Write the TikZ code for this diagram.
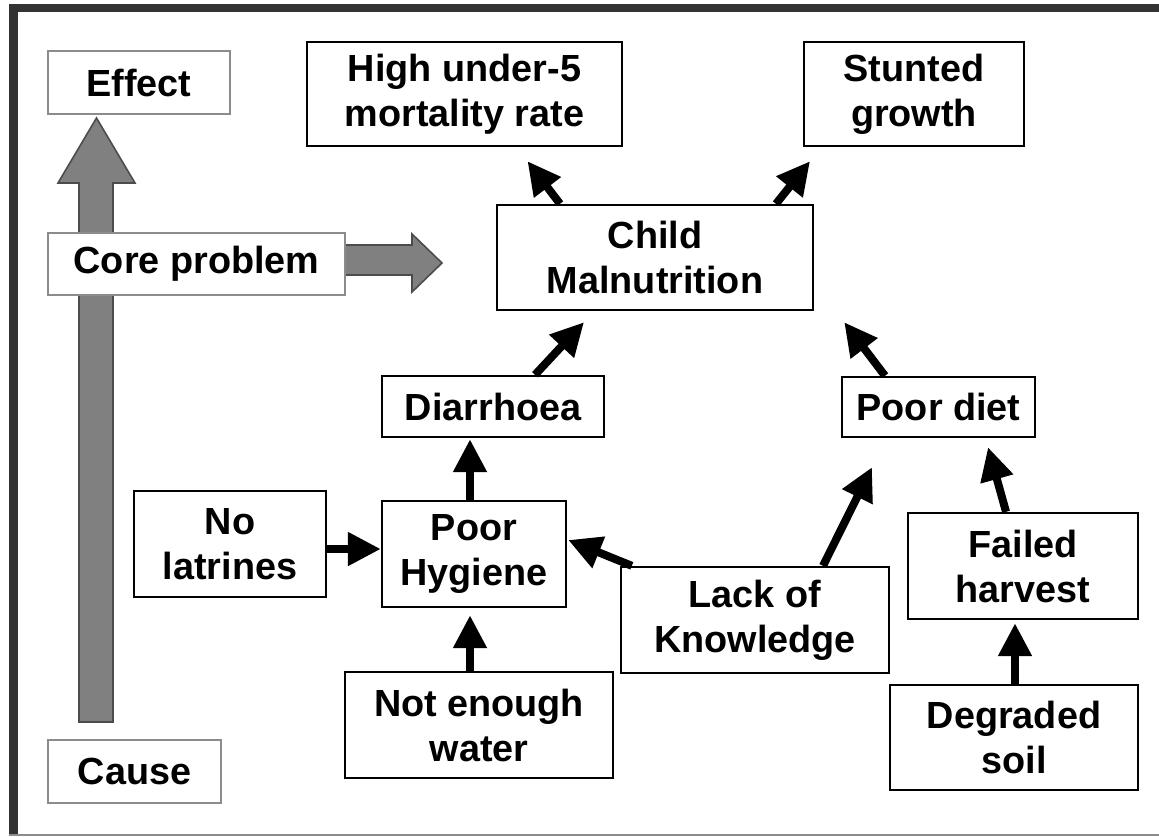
\documentclass[tikz,border=0pt]{standalone}
\usepackage{fontspec}
\setmainfont{Liberation Sans}
\usepackage{tikz}
\usetikzlibrary{arrows.meta, positioning}
\tikzset{>={Triangle[length=16.5pt,width=16pt]}}
\definecolor{arrowgray}{HTML}{808080}
\definecolor{framegray}{HTML}{333333}
\tikzset{
  box/.style={draw, line width=1.2pt, fill=white, align=center, inner sep=0pt,
    font=\fontsize{18.9}{22.5}\selectfont\bfseries},
  graybox/.style={box, draw=black!45, line width=1pt},
  arr/.style={->, line width=4pt},
  blockarrow/.style={fill=arrowgray, draw=black!70, line width=0.8pt}
}

\begin{document}
\begin{tikzpicture}[x=0.5pt, y=-0.5pt]
\useasboundingbox (0,0) rectangle (1159,836);

% frame
\draw[framegray, line width=4pt](9,8)--(1159,8);
\draw[framegray, line width=4.5pt](13.5,4)--(13.5,836);
\draw[black!45, line width=1pt](9,834.5)--(1159,834.5);

% cause -> effect and core problem arrows
\draw[blockarrow](79,722)--(113,722)--(113,183)--(135,183)--(96.5,118)--(58,183)--(79,183)--cycle;
\draw[blockarrow](330,245)--(412,245)--(412,234)--(442,263)--(412,292)--(412,275)--(330,275)--cycle;

\node[graybox, minimum width=91pt, minimum height=31.5pt] (effect) at (139,82.5) {Effect};
\node[graybox, minimum width=148.5pt, minimum height=31pt] (core) at (196.5,264) {Core problem};
\node[graybox, minimum width=86.5pt, minimum height=31.5pt] (cause) at (134.5,771.5) {Cause};

% effects
\node[box, minimum width=157.5pt, minimum height=52pt] (mortality) at (464.5,94) {High under-5\\mortality rate};
\node[box, minimum width=110pt, minimum height=52pt] (stunted) at (914,94) {Stunted\\growth};

% core problem
\node[box, minimum width=158pt, minimum height=52.5pt] (malnut) at (655,257.5) {Child\\Malnutrition};

% causes
\node[box, minimum width=111pt, minimum height=30.5pt] (diarrhoea) at (493,406.5) {Diarrhoea};
\node[box, minimum width=96.5pt, minimum height=30pt] (diet) at (938.5,407) {Poor diet};
\node[box, minimum width=96pt, minimum height=53pt] (latrines) at (230,544) {No\\latrines};
\node[box, minimum width=92pt, minimum height=53pt] (hygiene) at (474,554) {Poor\\Hygiene};
\node[box, minimum width=134pt, minimum height=53pt] (water) at (479,725) {Not enough\\water};
\node[box, minimum width=134pt, minimum height=53pt] (knowledge) at (755,620) {Lack of\\Knowledge};
\node[box, minimum width=115pt, minimum height=53pt] (harvest) at (1023,566) {Failed\\harvest};
\node[box, minimum width=124pt, minimum height=52.5pt] (soil) at (1014,737.5) {Degraded\\soil};

% links
\draw[arr]([xshift=-47.5pt]malnut.north)--([xshift=31.5pt,yshift=-7pt]mortality.south);
\draw[arr]([xshift=60.5pt]malnut.north)--([xshift=-52pt,yshift=-7pt]stunted.south);
\draw[arr]([xshift=21pt]diarrhoea.north)--([xshift=-35.5pt,yshift=-5.5pt]malnut.south);
\draw[arr]([xshift=-26.75pt]diet.north)--([xshift=15pt,yshift=-5.5pt]malnut.south east);
\draw[arr]([xshift=-2pt]hygiene.north)--([xshift=-11.5pt,yshift=-0.5pt]diarrhoea.south);
\draw[arr]([yshift=-2.5pt]latrines.east)--([yshift=2.5pt]hygiene.west);
\draw[arr]([xshift=-4.5pt]water.north)--([xshift=-2pt,yshift=-3.5pt]hygiene.south);
\draw[arr]([xshift=6pt]knowledge.north west)--([xshift=0.5pt,yshift=7pt]hygiene.east);
\draw[arr]([xshift=34pt]knowledge.north)--([xshift=-33.25pt,yshift=-14.5pt]diet.south);
\draw[arr]([xshift=-8.5pt]harvest.north)--([xshift=24.75pt,yshift=-4.5pt]diet.south);
\draw[arr]([xshift=0.5pt]soil.north)--([xshift=-4pt,yshift=-1.5pt]harvest.south);

\end{tikzpicture}
\end{document}
